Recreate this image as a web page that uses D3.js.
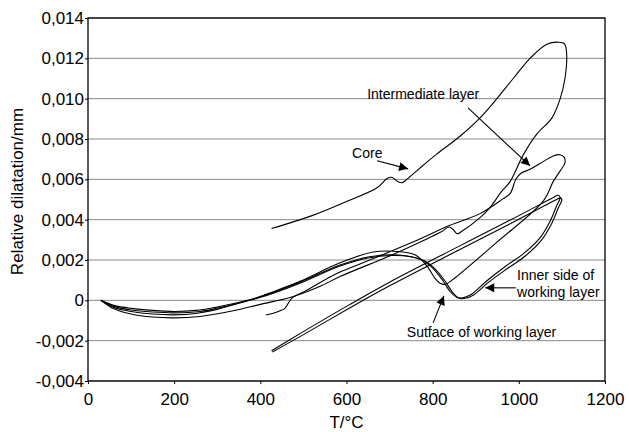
<!DOCTYPE html>
<html>
<head>
<meta charset="utf-8">
<script src="https://cdn.jsdelivr.net/npm/d3@7"></script>
<style>
  body { margin: 0; background: #fff; }
  svg { display: block; font-family: "Liberation Sans", Arial, sans-serif; }
</style>
</head>
<body>
<div id="chart"></div>
<script>
// tick values
const xTicks = [0, 200, 400, 600, 800, 1000, 1200]
const yTicks = [-0.004, -0.002, 0, 0.002, 0.004, 0.006, 0.008, 0.010, 0.012, 0.014]

// [T °C, relative dilatation]
const core = [
  [30, 0], [60, -0.00042], [100, -0.00068], [150, -0.00083], [200, -0.00087], [260, -0.0008],
  [337, -0.00052], [400, -0.0002], [469, 0.00014], [539, 0.0007], [585, 0.00118], [700, 0.0022],
  [780, 0.00298], [820, 0.0034], [838, 0.00364], [848, 0.0035], [857, 0.0033], [866, 0.0034],
  [910, 0.0041], [933, 0.0046], [960, 0.0054], [980, 0.0059], [1010, 0.0072], [1042, 0.00825],
  [1077, 0.00905], [1096, 0.01], [1107, 0.011], [1111, 0.0122], [1106, 0.01272], [1092, 0.0128],
  [1065, 0.0127], [1026, 0.012], [987, 0.011], [949, 0.01], [910, 0.00905], [864, 0.00815],
  [810, 0.00726], [771, 0.00657], [740, 0.006], [729, 0.00583], [718, 0.0059], [705, 0.0061],
  [695, 0.00605], [671, 0.00558], [600, 0.0049], [520, 0.0042], [426, 0.00356]
]

const intermediate = [
  [30, 0], [60, -0.00035], [100, -0.00055], [150, -0.00068], [200, -0.00072], [250, -0.00065],
  [300, -0.00045], [340, -0.0002], [375, 0], [420, 0.00035], [492, 0.00094], [585, 0.00186],
  [662, 0.0024], [720, 0.00242], [760, 0.00225], [787, 0.0017], [805, 0.0011], [817, 0.00085],
  [830, 0.0008], [845, 0.001], [950, 0.0029], [1057, 0.00493], [1080, 0.0059], [1096, 0.00642],
  [1107, 0.0068], [1105, 0.0071], [1095, 0.00722], [1080, 0.00716], [1050, 0.0068], [1026, 0.0065],
  [1005, 0.0063], [993, 0.006], [980, 0.0053], [963, 0.00503], [910, 0.0043], [840, 0.00372],
  [750, 0.00285], [631, 0.0018], [585, 0.0014], [540, 0.0009], [508, 0.0005], [485, 0.00026],
  [474, 0.00012], [466, -0.0001], [457, -0.0004], [446, -0.00052], [430, -0.00064], [413, -0.00073]
]

const surface = [
  [30, 0], [60, -0.00025], [100, -0.0004], [150, -0.0005], [200, -0.00055], [250, -0.0005],
  [300, -0.00033], [370, 0], [420, 0.00032], [492, 0.0009], [585, 0.00175], [650, 0.00215],
  [700, 0.00226], [740, 0.0022], [775, 0.002], [800, 0.0016], [824, 0.00097], [840, 0.00045],
  [856, 0.00015], [870, 0.00012], [890, 0.0003], [926, 0.00097], [970, 0.0017], [1010, 0.0023],
  [1049, 0.0031], [1072, 0.0039], [1088, 0.0047], [1096, 0.0051], [1091, 0.00521], [1080, 0.0051],
  [1000, 0.0042], [863, 0.0027], [700, 0.0009], [608, -0.0002], [492, -0.00165], [426, -0.0025]
]

const innerSide = [
  [30, 0], [60, -0.0003], [100, -0.00048], [150, -0.00058], [200, -0.00062], [260, -0.00055],
  [320, -0.0003], [375, 0], [420, 0.00028], [492, 0.00085], [585, 0.0017], [650, 0.0021],
  [705, 0.00222], [748, 0.00217], [782, 0.00195], [806, 0.00155], [830, 0.00092], [846, 0.0004],
  [862, 0.0001], [876, 0.0001], [896, 0.00028], [930, 0.0009], [975, 0.0016], [1015, 0.0022],
  [1053, 0.003], [1076, 0.0038], [1092, 0.0046], [1100, 0.005], [1096, 0.00508], [1085, 0.00497],
  [1000, 0.00402], [863, 0.00252], [700, 0.00072], [608, -0.00037], [492, -0.0018], [428, -0.00256]
]

const curves = [core, intermediate, surface, innerSide]

// annotations: label position, arrow tail, arrow head (data units)
const notes = [
  { lines: ['Core'], at: [613, 0.00707], from: [671, 0.00692], to: [743, 0.00652] },
  { lines: ['Intermediate layer'], at: [648, 0.0100], from: [882, 0.00954], to: [1026, 0.00667] },
  { lines: ['Inner side of', 'working layer'], at: [996, 0.00102], from: [993, 0.00062], to: [922, 0.00062] },
  { lines: ['Sutface of working layer'], at: [740, -0.00181], from: [801, -0.00112], to: [826, 0.00022] }
]

const width = 629
const height = 432
const margin = { top: 18, right: 24, bottom: 51, left: 88 }

const svg = d3.select('#chart').append('svg')
  .attr('width', width)
  .attr('height', height)

const x = d3.scaleLinear().domain([0, 1200]).range([margin.left, width - margin.right])
const y = d3.scaleLinear().domain([-0.004, 0.014]).range([height - margin.bottom, margin.top])

const fmt = d => d === 0 ? '0' : d3.format('.3f')(d).replace('.', ',').replace('−', '-')

// grid
svg.append('g')
  .selectAll('line')
  .data(yTicks)
  .enter()
  .append('line')
  .attr('x1', x(0))
  .attr('x2', x(1200))
  .attr('y1', d => y(d))
  .attr('y2', d => y(d))
  .attr('stroke', '#8a8a8a')
  .attr('stroke-width', 1)

// axes
const yAxis = svg.append('g')
  .attr('transform', `translate(${margin.left},0)`)
  .call(d3.axisLeft(y).tickValues(yTicks).tickSize(3).tickPadding(1).tickFormat(fmt))
const xAxis = svg.append('g')
  .attr('transform', `translate(0,${height - margin.bottom})`)
  .call(d3.axisBottom(x).tickValues(xTicks).tickSize(3).tickPadding(9).tickFormat(d3.format('d')))

;[xAxis, yAxis].forEach(g => {
  g.select('.domain').remove()
  g.selectAll('text').attr('font-size', 17).attr('font-family', '"Liberation Sans", Arial, sans-serif').attr('fill', '#000')
  g.selectAll('line').attr('stroke', '#000')
})

// frame
svg.append('rect')
  .attr('x', x(0))
  .attr('y', y(0.014))
  .attr('width', x(1200) - x(0))
  .attr('height', y(-0.004) - y(0.014))
  .attr('fill', 'none')
  .attr('stroke', '#000')
  .attr('stroke-width', 1.3)

// curves
const line = d3.line()
  .x(d => x(d[0]))
  .y(d => y(d[1]))
  .curve(d3.curveCatmullRom.alpha(0.5))

svg.append('g')
  .selectAll('path')
  .data(curves)
  .enter()
  .append('path')
  .attr('d', line)
  .attr('fill', 'none')
  .attr('stroke', '#000')
  .attr('stroke-width', 1.1)

// arrow head
svg.append('defs').append('marker')
  .attr('id', 'head')
  .attr('viewBox', '0 0 10 10')
  .attr('refX', 10)
  .attr('refY', 5)
  .attr('markerWidth', 13)
  .attr('markerHeight', 9)
  .attr('markerUnits', 'userSpaceOnUse')
  .attr('orient', 'auto')
  .append('path')
  .attr('d', 'M0,0L10,5L0,10z')
  .attr('fill', '#000')

const ann = svg.append('g')
notes.forEach(n => {
  ann.append('line')
    .attr('x1', x(n.from[0]))
    .attr('y1', y(n.from[1]))
    .attr('x2', x(n.to[0]))
    .attr('y2', y(n.to[1]))
    .attr('stroke', '#000')
    .attr('stroke-width', 1.1)
    .attr('marker-end', 'url(#head)')
  n.lines.forEach((t, i) => {
    ann.append('text')
      .attr('x', x(n.at[0]))
      .attr('y', y(n.at[1]) + i * 17)
      .attr('font-size', 14)
      .attr('fill', '#000')
      .text(t)
  })
})

// axis titles
svg.append('text')
  .attr('x', (x(0) + x(1200)) / 2)
  .attr('y', 428)
  .attr('text-anchor', 'middle')
  .attr('font-size', 17)
  .text('T/°C')

svg.append('text')
  .attr('transform', `translate(23,${(y(0.014) + y(-0.004)) / 2 - 8}) rotate(-90)`)
  .attr('text-anchor', 'middle')
  .attr('font-size', 17)
  .text('Relative dilatation/mm')
</script>
</body>
</html>
